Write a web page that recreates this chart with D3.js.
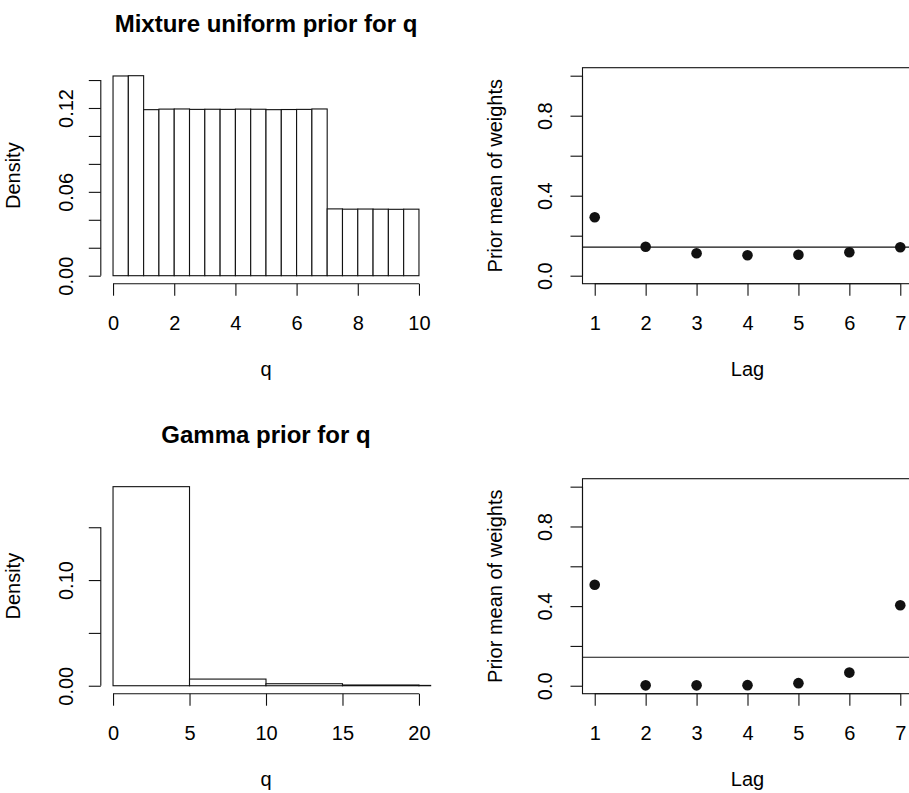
<!DOCTYPE html>
<html>
<head>
<meta charset="utf-8">
<script src="https://cdn.jsdelivr.net/npm/d3@7"></script>
<style>
  body { margin: 0; background: #fff; }
  svg { display: block; font-family: "Liberation Sans", Arial, Helvetica, sans-serif; }
  .axis text { font-size: 20px; fill: #000; }
  .axis line, .axis .rline { stroke: #111; stroke-width: 1.1; }
</style>
</head>
<body>
<svg id="chart" width="909" height="793"></svg>
<script>
// histogram of the mixture uniform prior (breaks and densities)
var mixBreaks = [0, 0.5, 1, 1.5, 2, 2.5, 3, 3.5, 4, 4.5, 5, 5.5, 6, 6.5, 7, 7.5, 8, 8.5, 9, 9.5, 10];
var mixDensity = [0.1429, 0.1431, 0.1188, 0.1192, 0.1193, 0.1190, 0.1191, 0.1190, 0.1192, 0.1191,
                  0.1188, 0.1189, 0.1190, 0.1193, 0.0478, 0.0476, 0.0477, 0.0476, 0.0475, 0.0476];
var mixXTicks = [0, 2, 4, 6, 8, 10];
var mixYTicks = [0, 0.02, 0.04, 0.06, 0.08, 0.10, 0.12, 0.14];
var mixYLabels = [0, 0.06, 0.12];

// histogram of the gamma prior
var gammaBreaks = [0, 5, 10, 15, 20, 25];
var gammaDensity = [0.1884, 0.0063, 0.0019, 0.0007, 0.0003];
var gammaXTicks = [0, 5, 10, 15, 20];
var gammaYTicks = [0, 0.05, 0.10, 0.15];
var gammaYLabels = [0, 0.10];

// prior mean of weights by lag
var lags = [1, 2, 3, 4, 5, 6, 7];
var mixWeights = [0.292, 0.145, 0.112, 0.102, 0.105, 0.117, 0.142];
var gammaWeights = [0.507, 0.002, 0.002, 0.003, 0.013, 0.066, 0.404];
var refLine = 1 / 7;
var weightTicks = [0, 0.2, 0.4, 0.6, 0.8, 1.0];
var weightLabels = [0, 0.4, 0.8];

var svg = d3.select("#chart");

var cols = [{x0: 100.8, x1: 431.2, lab: 27.5}, {x0: 582.5, x1: 912.5, lab: 30.5}];
var rows = [{y0: 67.7, y1: 283.7}, {y0: 478.7, y1: 693.7}];

// R style: extend range 4% on each side
function rPad(lo, hi) {
  var p = (hi - lo) * 0.04;
  return [lo - p, hi + p];
}

function drawAxes(g, col, x, y, xTicks, yTicks, yLabels, fmtY, box) {
  var c = x.range(), r = y.range();

  var xa = g.append("g")
      .attr("class", "axis")
      .attr("transform", "translate(0," + r[0] + ")")
      .call(d3.axisBottom(x).tickValues(xTicks).tickSize(12).tickPadding(20).tickFormat(d3.format("d")));
  xa.select(".domain").remove();
  xa.append("line").attr("class", "rline")
      .attr("x1", x(xTicks[0])).attr("x2", x(xTicks[xTicks.length - 1]));

  var ya = g.append("g")
      .attr("class", "axis")
      .attr("transform", "translate(" + c[0] + ",0)")
      .call(d3.axisLeft(y).tickValues(yTicks).tickSize(12)
        .tickFormat(function(d) { return yLabels.indexOf(d) >= 0 ? fmtY(d) : ""; }));
  ya.select(".domain").remove();
  ya.append("line").attr("class", "rline")
      .attr("y1", y(yTicks[0])).attr("y2", y(yTicks[yTicks.length - 1]));
  ya.selectAll(".tick text")
      .attr("transform", "rotate(-90)")
      .attr("x", 0).attr("y", -col.lab).attr("dy", 0)
      .style("text-anchor", "middle");

  if (box) {
    g.append("rect")
      .attr("x", c[0]).attr("y", r[1])
      .attr("width", c[1] - c[0]).attr("height", r[0] - r[1])
      .attr("fill", "none").attr("stroke", "#111").attr("stroke-width", 1.1);
  }
}

function labels(g, col, row, title, xlab, ylab) {
  var cx = (col.x0 + col.x1) / 2;
  if (title) {
    g.append("text")
        .attr("x", cx).attr("y", row.y0 - 36)
        .style("text-anchor", "middle").style("font-size", "24px").style("font-weight", "bold")
        .text(title);
  }
  g.append("text")
      .attr("x", cx).attr("y", row.y1 + 92)
      .style("text-anchor", "middle").style("font-size", "20px")
      .text(xlab);
  var cy = (row.y0 + row.y1) / 2;
  g.append("text")
      .attr("transform", "translate(" + (col.x0 - 81) + "," + cy + ") rotate(-90)")
      .style("text-anchor", "middle").style("font-size", "20px")
      .text(ylab);
}

function histPanel(id, col, row, breaks, dens, xlim, xTicks, yTicks, yLabels, title) {
  var g = svg.append("g");
  var x = d3.scaleLinear().domain(rPad(xlim[0], xlim[1])).range([col.x0, col.x1]);
  var y = d3.scaleLinear().domain(rPad(0, d3.max(dens))).range([row.y1, row.y0]);

  g.append("clipPath").attr("id", id)
    .append("rect")
      .attr("x", col.x0).attr("y", row.y0)
      .attr("width", col.x1 - col.x0).attr("height", row.y1 - row.y0);

  g.append("g").attr("clip-path", "url(#" + id + ")")
    .selectAll("rect")
    .data(dens)
    .enter().append("rect")
      .attr("x", function(d, i) { return x(breaks[i]); })
      .attr("y", function(d) { return y(d); })
      .attr("width", function(d, i) { return x(breaks[i + 1]) - x(breaks[i]); })
      .attr("height", function(d) { return y(0) - y(d); })
      .attr("fill", "#fff")
      .attr("stroke", "#111")
      .attr("stroke-width", 1.1);

  drawAxes(g, col, x, y, xTicks, yTicks, yLabels, d3.format(".2f"), false);
  labels(g, col, row, title, "q", "Density");
}

function weightPanel(col, row, weights) {
  var g = svg.append("g");
  var x = d3.scaleLinear().domain(rPad(1, 7)).range([col.x0, col.x1]);
  var y = d3.scaleLinear().domain(rPad(0, 1)).range([row.y1, row.y0]);

  // abline(h = 1/7)
  g.append("line")
      .attr("x1", col.x0).attr("x2", col.x1)
      .attr("y1", y(refLine)).attr("y2", y(refLine))
      .attr("stroke", "#111").attr("stroke-width", 1.1);

  g.selectAll("circle")
    .data(weights)
    .enter().append("circle")
      .attr("cx", function(d, i) { return x(lags[i]); })
      .attr("cy", function(d) { return y(d); })
      .attr("r", 5.3)
      .attr("fill", "#111");

  drawAxes(g, col, x, y, lags, weightTicks, weightLabels, d3.format(".1f"), true);
  labels(g, col, row, null, "Lag", "Prior mean of weights");
}

histPanel("clipMix", cols[0], rows[0], mixBreaks, mixDensity, [0, 10], mixXTicks, mixYTicks, mixYLabels,
  "Mixture uniform prior for q");
histPanel("clipGam", cols[0], rows[1], gammaBreaks, gammaDensity, [0, 20], gammaXTicks, gammaYTicks, gammaYLabels,
  "Gamma prior for q");
weightPanel(cols[1], rows[0], mixWeights);
weightPanel(cols[1], rows[1], gammaWeights);
</script>
</body>
</html>
